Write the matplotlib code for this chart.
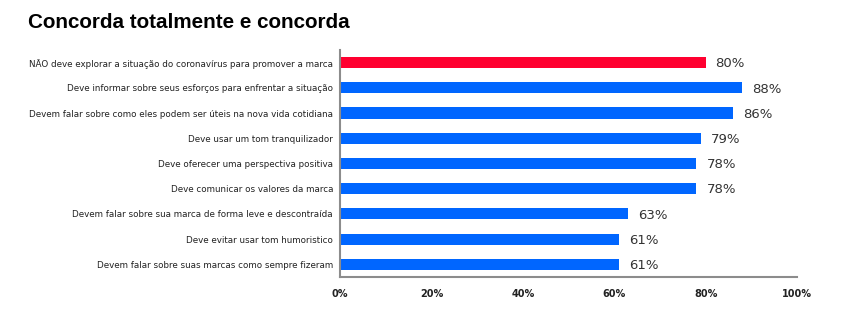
import matplotlib
matplotlib.use("Agg")
import matplotlib.pyplot as plt
from matplotlib.ticker import PercentFormatter

categories = [
    "NÃO deve explorar a situação do coronavírus para promover a marca",
    "Deve informar sobre seus esforços para enfrentar a situação",
    "Devem falar sobre como eles podem ser úteis na nova vida cotidiana",
    "Deve usar um tom tranquilizador",
    "Deve oferecer uma perspectiva positiva",
    "Deve comunicar os valores da marca",
    "Devem falar sobre sua marca de forma leve e descontraída",
    "Deve evitar usar tom humoristico",
    "Devem falar sobre suas marcas como sempre fizeram",
]
values = [80, 88, 86, 79, 78, 78, 63, 61, 61]
highlight = [True, False, False, False, False, False, False, False, False]
xticks = [0, 20, 40, 60, 80, 100]

red = "#FF0030"
blue = "#0066FF"

fig = plt.figure(figsize=(8.5, 3.25), dpi=100)
ax = fig.add_axes([0.4, 0.1477, 0.5376, 0.6985])

colors = [red if h else blue for h in highlight]
y = list(range(len(categories)))
ax.barh(y, values, height=0.44, color=colors)

for yi, v in zip(y, values):
    ax.text(v + 2.2, yi + 0.05, f"{v}%", va="center", ha="left",
            fontsize=9.5, color="#333333", family="DejaVu Sans")

ax.set_ylim(len(categories) - 0.5, -0.5)
ax.set_xlim(0, 100)
ax.set_yticks(y)
ax.set_yticklabels(categories, fontsize=6.3, color="#222222", family="DejaVu Sans")
ax.set_xticks(xticks)
ax.xaxis.set_major_formatter(PercentFormatter(decimals=0))
for lbl in ax.get_xticklabels():
    lbl.set_fontsize(7)
    lbl.set_fontweight("bold")
    lbl.set_color("#222222")
ax.tick_params(axis="both", length=0)
ax.tick_params(axis="x", pad=9)
ax.tick_params(axis="y", pad=5)

for side in ("top", "right"):
    ax.spines[side].set_visible(False)
for side in ("left", "bottom"):
    ax.spines[side].set_color("#8c8c8c")
    ax.spines[side].set_linewidth(1.5)

fig.text(28 / 850, 1 - 23 / 325, "Concorda totalmente e concorda",
         fontsize=14.9, fontweight="bold", family="Liberation Sans",
         va="center", ha="left", color="#000000")

fig.savefig("out.png", dpi=100)
